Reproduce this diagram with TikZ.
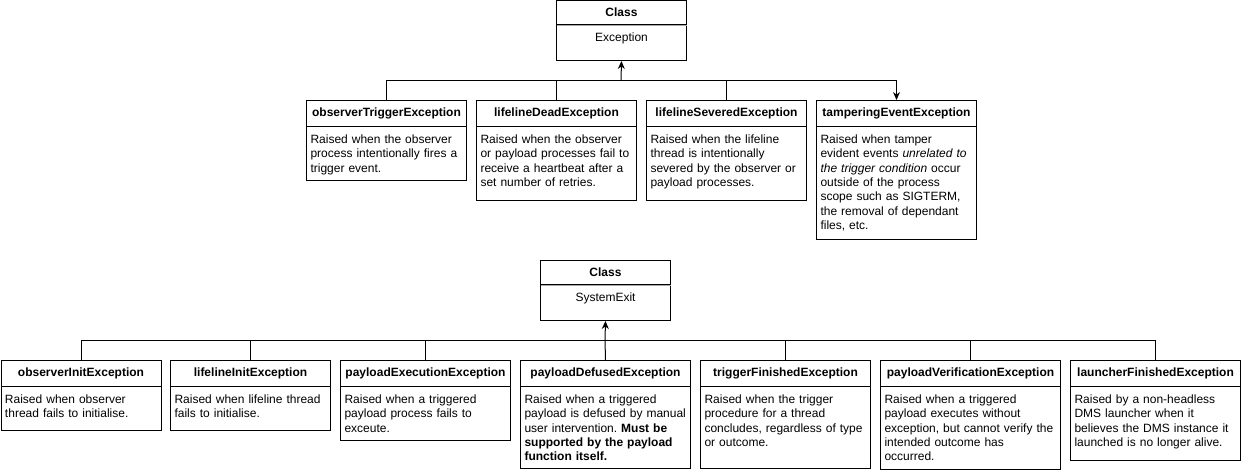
\documentclass[tikz,border=0pt]{standalone}
\usepackage[svgnames]{xcolor}
\usepackage{fontspec}
\setmainfont{Liberation Sans}
\usepackage{tikz}
\usetikzlibrary{arrows.meta}
\pgfdeclarelayer{edgelayer}
\pgfdeclarelayer{nodelayer}
\pgfsetlayers{edgelayer,nodelayer,main}
\frenchspacing
\newcommand{\fsz}{\fontsize{12}{14.3}\selectfont}
\tikzstyle{none}=[inner sep=0pt]
\tikzstyle{cls}=[draw=Black,line width=1pt,anchor=north west,minimum height=24pt,inner sep=0pt,font=\fsz\bfseries]
\tikzstyle{hd}=[draw=Black,line width=1pt,anchor=north west,minimum height=26pt,inner sep=0pt,font=\fsz\bfseries]
\tikzstyle{bd}=[draw=Black,line width=1pt,anchor=north west,inner xsep=4pt,inner ysep=0pt,align=left,text height=17pt,font=\fsz]
\tikzstyle{simple}=[-,draw=Black,line width=1pt]
\tikzstyle{arrow}=[-{Stealth[length=8pt,width=7pt]},draw=Black,line width=1pt]
\tikzstyle{divider}=[-,draw=DarkGray,line width=1pt]
\begin{document}
\begin{tikzpicture}[x=1pt,y=-1pt]
	\useasboundingbox (0, 0) rectangle (1241, 474);
	\begin{pgfonlayer}{nodelayer}
		\node [style=cls, minimum width=130pt] (0) at (556, 0) {Class};
		\node [style=bd, text width=122pt, align=center, text depth=19pt] (1) at (556, 24) {Exception};
		\node [style=hd, minimum width=160pt] (2) at (306, 100) {observerTriggerException};
		\node [style=bd, text width=152pt, text depth=37pt] (3) at (306, 126) {Raised when the observer\\process intentionally fires a\\trigger event.};
		\node [style=hd, minimum width=160pt] (4) at (476, 100) {lifelineDeadException};
		\node [style=bd, text width=152pt, text depth=57pt] (5) at (476, 126) {Raised when the observer\\or payload processes fail to\\receive a heartbeat after a\\set number of retries.};
		\node [style=hd, minimum width=160pt] (6) at (646, 100) {lifelineSeveredException};
		\node [style=bd, text width=152pt, text depth=57pt] (7) at (646, 126) {Raised when the lifeline\\thread is intentionally\\severed by the observer or\\payload processes.};
		\node [style=hd, minimum width=160pt] (8) at (816, 100) {tamperingEventException};
		\node [style=bd, text width=152pt, text depth=96pt] (9) at (816, 126) {Raised when tamper\\evident events \textit{unrelated to}\\\textit{the trigger condition} occur\\outside of the process\\scope such as SIGTERM,\\the removal of dependant\\files, etc.};
		\node [style=none] (10) at (621, 80) {};
		\node [style=cls, minimum width=130pt] (11) at (540, 260) {Class};
		\node [style=bd, text width=122pt, align=center, text depth=19pt] (12) at (540, 284) {SystemExit};
		\node [style=hd, minimum width=160pt] (13) at (0.5, 360) {observerInitException};
		\node [style=bd, text width=152pt, text depth=27pt] (14) at (0.5, 386) {Raised when observer\\thread fails to initialise.};
		\node [style=hd, minimum width=160pt] (15) at (170, 360) {lifelineInitException};
		\node [style=bd, text width=152pt, text depth=27pt] (16) at (170, 386) {Raised when lifeline thread\\fails to initialise.};
		\node [style=hd, minimum width=170pt] (17) at (340, 360) {payloadExecutionException};
		\node [style=bd, text width=162pt, text depth=37pt] (18) at (340, 386) {Raised when a triggered\\payload process fails to\\exceute.};
		\node [style=hd, minimum width=170pt] (19) at (520, 360) {payloadDefusedException};
		\node [style=bd, text width=162pt, text depth=65pt] (20) at (520, 386) {Raised when a triggered\\payload is defused by manual\\user intervention. \textbf{Must be}\\\textbf{supported by the payload}\\\textbf{function itself.}};
		\node [style=hd, minimum width=170pt] (21) at (700, 360) {triggerFinishedException};
		\node [style=bd, text width=162pt, text depth=65pt] (22) at (700, 386) {Raised when the trigger\\procedure for a thread\\concludes, regardless of type\\or outcome.};
		\node [style=hd, minimum width=180pt] (23) at (880, 360) {payloadVerificationException};
		\node [style=bd, text width=172pt, text depth=66pt] (24) at (880, 386) {Raised when a triggered\\payload executes without\\exception, but cannot verify the\\intended outcome has\\occurred.};
		\node [style=hd, minimum width=170pt] (25) at (1070, 360) {launcherFinishedException};
		\node [style=bd, text width=162pt, text depth=57pt] (26) at (1070, 386) {Raised by a non-headless\\DMS launcher when it\\believes the DMS instance it\\launched is no longer alive.};
		\node [style=none] (27) at (605, 340) {};
	\end{pgfonlayer}
	\begin{pgfonlayer}{edgelayer}
		\draw [style=simple] (2.north) |- (10.center);
		\draw [style=simple] (4.north) |- (10.center);
		\draw [style=simple] (6.north) |- (10.center);
		\draw [style=arrow] (10.center) -| (8.north);
		\draw [style=arrow] (10.center) to (1.south);
		\draw [style=simple] (13.north) |- (27.center);
		\draw [style=simple] (15.north) |- (27.center);
		\draw [style=simple] (17.north) |- (27.center);
		\draw [style=simple] (19.north) to (27.center);
		\draw [style=simple] (21.north) |- (27.center);
		\draw [style=simple] (23.north) |- (27.center);
		\draw [style=simple] (25.north) |- (27.center);
		\draw [style=arrow] (27.center) to (12.south);
	\end{pgfonlayer}
	\draw [style=divider] ([xshift=0.5pt]0.south west) -- ([xshift=-0.5pt]0.south east);
	\draw [style=divider] ([xshift=0.5pt]11.south west) -- ([xshift=-0.5pt]11.south east);
\end{tikzpicture}
\end{document}
